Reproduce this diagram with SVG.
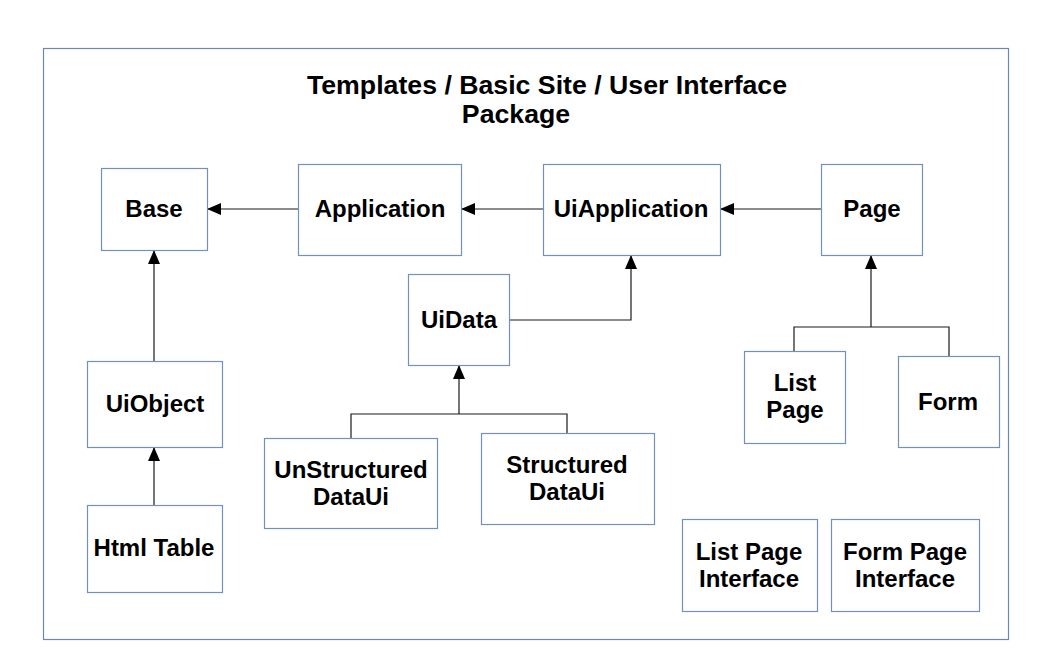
<svg xmlns="http://www.w3.org/2000/svg" width="1058" height="662" viewBox="0 0 1058 662">
<style>
.box{fill:#fff;stroke:#7590b8;stroke-width:1.2}
.lbl{font-family:"Liberation Sans",Arial,sans-serif;font-weight:bold;font-size:24px;fill:#000;text-anchor:middle}
.ttl{font-family:"Liberation Sans",Arial,sans-serif;font-weight:bold;font-size:26.7px;fill:#000;text-anchor:middle}
.con{fill:none;stroke:#1a1a1a;stroke-width:1.2}
</style>
<defs>
<marker id="arr" viewBox="0 0 14 12" refX="14" refY="6" markerWidth="14" markerHeight="12" markerUnits="userSpaceOnUse" orient="auto">
<path d="M0,0 L14,6 L0,12 Z" fill="#000"/>
</marker>
</defs>
<rect x="0" y="0" width="1058" height="662" fill="#fff"/>
<g id="package">
<rect x="43.5" y="48.5" width="965" height="591" fill="none" stroke="#6d87b0" stroke-width="1.2"/>
<text class="ttl" x="547" y="94">Templates / Basic Site / User Interface</text>
<text class="ttl" x="516" y="123">Package</text>
</g>
<g id="connectors">
<path class="con" d="M298,209 H207" marker-end="url(#arr)"/>
<path class="con" d="M543,209 H461" marker-end="url(#arr)"/>
<path class="con" d="M821,209 H720" marker-end="url(#arr)"/>
<path class="con" d="M509,320 H631 V255" marker-end="url(#arr)"/>
<path class="con" d="M154,361 V250" marker-end="url(#arr)"/>
<path class="con" d="M154,505 V447" marker-end="url(#arr)"/>
<path class="con" d="M351,438 V414 H567 V433"/>
<path class="con" d="M459,414 V365" marker-end="url(#arr)"/>
<path class="con" d="M794,351 V327 H949 V356"/>
<path class="con" d="M871,327 V255" marker-end="url(#arr)"/>
</g>
<g id="base"><rect class="box" x="101.5" y="168.5" width="106" height="82"/><text class="lbl" x="154" y="217">Base</text></g>
<g id="application"><rect class="box" x="298.5" y="164.5" width="163" height="91"/><text class="lbl" x="380" y="217">Application</text></g>
<g id="uiapplication"><rect class="box" x="543.5" y="164.5" width="177" height="91"/><text class="lbl" x="631" y="217">UiApplication</text></g>
<g id="page"><rect class="box" x="821.5" y="164.5" width="101" height="91"/><text class="lbl" x="872" y="217">Page</text></g>
<g id="uidata"><rect class="box" x="408.5" y="274.5" width="101" height="91"/><text class="lbl" x="459" y="328">UiData</text></g>
<g id="uiobject"><rect class="box" x="87.5" y="361.5" width="135" height="86"/><text class="lbl" x="155" y="412">UiObject</text></g>
<g id="htmltable"><rect class="box" x="87.5" y="505.5" width="135" height="87"/><text class="lbl" x="154" y="556">Html Table</text></g>
<g id="unstructured"><rect class="box" x="264.5" y="438.5" width="173" height="90"/><text class="lbl" x="351" y="478">UnStructured</text><text class="lbl" x="351" y="505">DataUi</text></g>
<g id="structured"><rect class="box" x="481.5" y="433.5" width="173" height="91"/><text class="lbl" x="567" y="473">Structured</text><text class="lbl" x="567" y="500">DataUi</text></g>
<g id="listpage"><rect class="box" x="744.5" y="351.5" width="101" height="92"/><text class="lbl" x="795" y="391">List</text><text class="lbl" x="795" y="418">Page</text></g>
<g id="form"><rect class="box" x="898.5" y="356.5" width="101" height="91"/><text class="lbl" x="948" y="410">Form</text></g>
<g id="listpageinterface"><rect class="box" x="682.5" y="519.5" width="135" height="92"/><text class="lbl" x="749" y="560">List Page</text><text class="lbl" x="749" y="587">Interface</text></g>
<g id="formpageinterface"><rect class="box" x="831.5" y="519.5" width="148" height="92"/><text class="lbl" x="905" y="560">Form Page</text><text class="lbl" x="905" y="587">Interface</text></g>
</svg>
